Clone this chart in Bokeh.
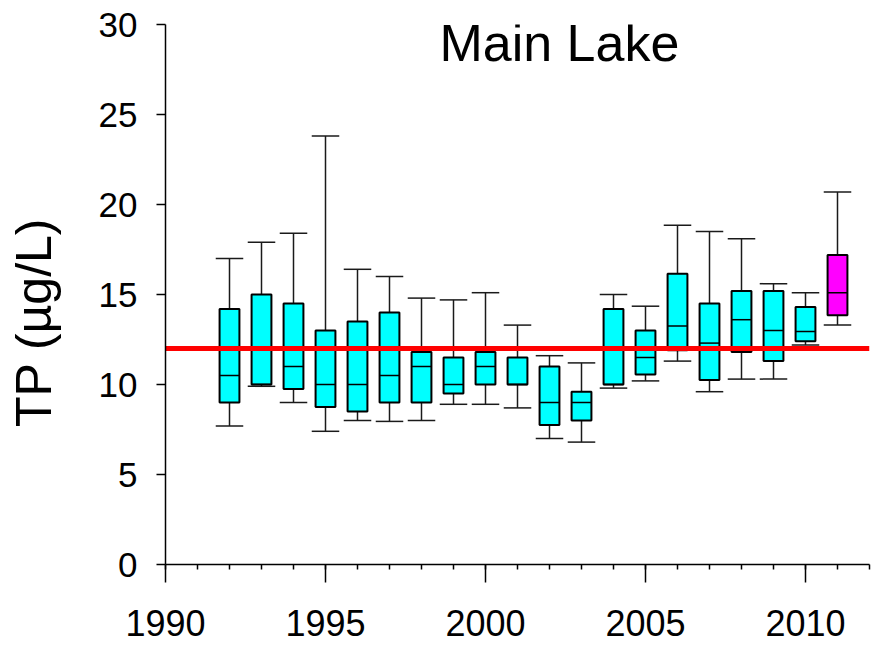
from bokeh.plotting import figure
from bokeh.models import FixedTicker, Label, ColumnDataSource
from bokeh.embed import file_html
from bokeh.resources import INLINE

# ---- data ----
years = [1992, 1993, 1994, 1995, 1996, 1997, 1998, 1999, 2000, 2001,
         2002, 2003, 2004, 2005, 2006, 2007, 2008, 2009, 2010, 2011]
lower = [7.7, 9.9, 9.0, 7.4, 8.0, 7.95, 8.0, 8.9, 8.9, 8.7,
         7.0, 6.8, 9.8, 10.2, 11.3, 9.6, 10.3, 10.3, 12.2, 13.3]
q1 = [9.0, 10.0, 9.75, 8.75, 8.5, 9.0, 9.0, 9.5, 10.0, 10.0,
      7.75, 8.0, 10.0, 10.55, 11.9, 10.25, 11.8, 11.3, 12.4, 13.85]
median = [10.5, 10.0, 11.0, 10.0, 10.0, 10.5, 11.0, 10.0, 11.0, 10.0,
          9.0, 9.0, 10.0, 11.5, 13.25, 12.3, 13.6, 13.0, 12.95, 15.1]
q3 = [14.2, 15.0, 14.5, 13.0, 13.5, 14.0, 11.8, 11.5, 11.8, 11.5,
      11.0, 9.6, 14.2, 13.0, 16.15, 14.5, 15.2, 15.2, 14.3, 17.2]
upper = [17.0, 17.9, 18.4, 23.8, 16.4, 16.0, 14.8, 14.7, 15.1, 13.3,
         11.6, 11.2, 15.0, 14.35, 18.85, 18.5, 18.1, 15.6, 15.1, 20.7]
box_colors = ["#00FFFF"] * 19 + ["#FF00FF"]
target = 12.0
x_ticks = [1990, 1995, 2000, 2005, 2010]
y_ticks = [0, 5, 10, 15, 20, 25, 30]
minor_years = list(range(1990, 2013))

BOX_W = 0.62
CAP_W = 0.86

src = ColumnDataSource(dict(
    x=years, lo=lower, q1=q1, med=median, q3=q3, hi=upper, color=box_colors,
    bl=[y - BOX_W / 2 for y in years], br=[y + BOX_W / 2 for y in years],
    cl=[y - CAP_W / 2 for y in years], cr=[y + CAP_W / 2 for y in years],
))

FONT = "Liberation Sans"

p = figure(width=872, height=645, x_range=(1990, 2012), y_range=(0, 30),
           output_backend="svg", toolbar_location=None, title=None,
           min_border_left=165, min_border_right=3, min_border_top=24,
           min_border_bottom=81)
p.outline_line_color = None
p.xgrid.visible = False
p.ygrid.visible = False
p.background_fill_color = "white"
p.border_fill_color = "white"

# axes
p.xaxis.ticker = FixedTicker(ticks=x_ticks, minor_ticks=minor_years)
p.yaxis.ticker = FixedTicker(ticks=y_ticks)
for ax in (p.xaxis, p.yaxis):
    ax.axis_line_color = "black"
    ax.axis_line_width = 1.5
    ax.major_tick_line_color = "black"
    ax.major_tick_line_width = 1.5
    ax.major_tick_in = 0
    ax.minor_tick_in = 0
    ax.major_label_text_font = FONT
    ax.major_label_text_color = "black"
p.xaxis.major_tick_out = 18
p.xaxis.minor_tick_out = 5
p.xaxis.minor_tick_line_color = "black"
p.xaxis.minor_tick_line_width = 1.5
p.xaxis.major_label_text_font_size = "36px"
p.xaxis.major_label_standoff = 27
p.yaxis.major_tick_out = 9
p.yaxis.minor_tick_line_color = None
p.yaxis.major_label_text_font_size = "35px"
p.yaxis.major_label_standoff = 19
p.yaxis.axis_label = "TP (µg/L)" + "\u00a0" * 4
p.yaxis.axis_label_text_font = FONT
p.yaxis.axis_label_text_font_size = "50px"
p.yaxis.axis_label_text_font_style = "normal"
p.yaxis.axis_label_text_color = "black"
p.yaxis.axis_label_standoff = 34

# whiskers
p.segment(x0="x", y0="q3", x1="x", y1="hi", source=src, line_color="#1a1a1a", line_width=1.5)
p.segment(x0="x", y0="lo", x1="x", y1="q1", source=src, line_color="#1a1a1a", line_width=1.5)
p.segment(x0="cl", y0="hi", x1="cr", y1="hi", source=src, line_color="#1a1a1a", line_width=1.5)
p.segment(x0="cl", y0="lo", x1="cr", y1="lo", source=src, line_color="#1a1a1a", line_width=1.5)

# boxes
p.vbar(x="x", width=BOX_W, bottom="q1", top="q3", source=src,
       fill_color="color", line_color="black", line_width=2)
p.segment(x0="bl", y0="med", x1="br", y1="med", source=src, line_color="black", line_width=1.5)

# target line
p.line(x=[x_ticks[0], minor_years[-1]], y=[target, target], line_color="#FF0000", line_width=5)

# title
p.add_layout(Label(x=2002.31, y=28.98, text="Main Lake", text_font=FONT,
                   text_font_size="52px", text_color="black",
                   text_align="center", text_baseline="alphabetic"))

open("out.html", "w").write(file_html(p, INLINE))
